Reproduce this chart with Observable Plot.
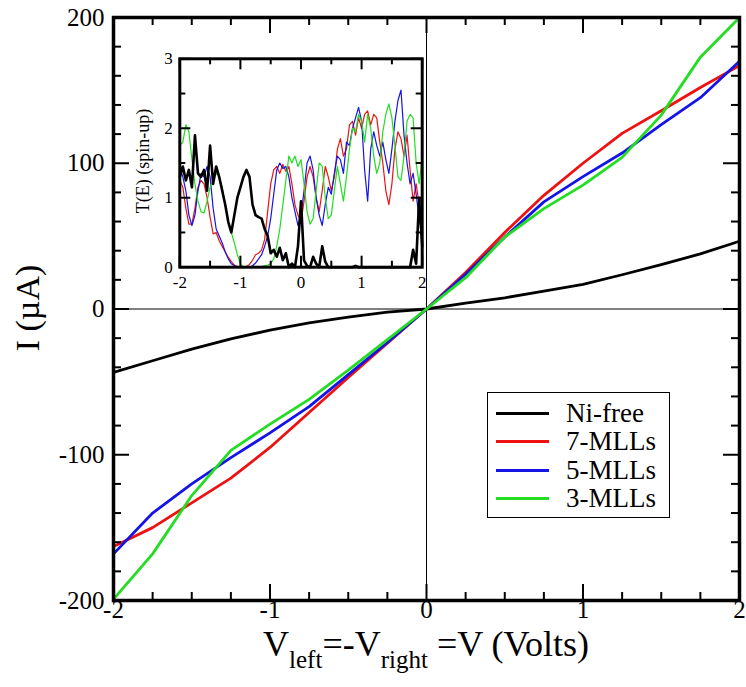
<!DOCTYPE html>
<html><head><meta charset="utf-8">
<script src="https://cdn.jsdelivr.net/npm/d3@7"></script>
<script src="https://cdn.jsdelivr.net/npm/@observablehq/plot@0.6"></script>
<style>
body{margin:0;background:#fff;}
#chart{position:relative;width:746px;height:687px;font-family:"Liberation Serif","Times New Roman",serif;color:#000;overflow:hidden;}
#chart svg{position:absolute;}
.abs{position:absolute;white-space:nowrap;}
</style></head><body><div id="chart"></div>
<script>
// ---- main I–V data ----
const bias = [-2,-1.75,-1.5,-1.25,-1,-0.75,-0.5,-0.25,0,0.25,0.5,0.75,1,1.25,1.5,1.75,2];
const niFree = [-43.5,-35.5,-27.5,-20.5,-14.5,-9.5,-5.5,-2.2,0,4,7.7,12.2,16.9,23.5,30.5,37.8,46.5];
const mll7 = [-163,-150,-133,-116,-95,-71,-47,-23.5,0,25,52.5,78,100,120.5,136,152,167];
const mll5 = [-168,-140,-120,-102,-85,-67,-45,-23,0,23.8,49.3,73.5,90.8,107,126.5,145,170];
const mll3 = [-199,-168,-128,-97,-79,-62,-42,-21,0,21.5,49.3,68.9,85,104,133,172.8,200];

// ---- inset T(E) data ----
const energy = [-2,-1.95,-1.9,-1.85,-1.8,-1.75,-1.7,-1.65,-1.6,-1.55,-1.5,-1.45,-1.4,-1.35,-1.3,-1.25,-1.2,-1.15,-1.1,-1.05,-1,-0.95,-0.9,-0.85,-0.8,-0.75,-0.7,-0.65,-0.6,-0.55,-0.5,-0.45,-0.4,-0.35,-0.3,-0.25,-0.2,-0.15,-0.1,-0.05,0,0.05,0.1,0.15,0.2,0.25,0.3,0.35,0.4,0.45,0.5,0.55,0.6,0.65,0.7,0.75,0.8,0.85,0.9,0.95,1,1.05,1.1,1.15,1.2,1.25,1.3,1.35,1.4,1.45,1.5,1.55,1.6,1.65,1.7,1.75,1.8,1.85,1.9,1.95,2];
const tNiFree = [1.3,1.45,1.25,1.4,1.15,1.9,1.35,1.3,1.4,1.1,
 1.75,1.2,1.45,1.3,1.1,0.9,0.65,0.5,0.75,1.0,
 1.15,1.3,1.4,1.3,0.9,0.75,0.72,0.7,0.55,0.45,
 0.2,0.25,0.15,0.28,0.1,0.2,0,0.05,0,0.3,
 0.95,0.1,0.02,0,0.15,0.05,0,0.3,0.08,0,
 0,0,0,0,0,0,0,0,0.02,0,
 0,0,0,0,0,0,0,0,0,0,
 0,0,0,0,0,0,0,0.25,0.05,1.0,
 0.3];
const t7 = [1.25,1.15,0.85,0.62,0.62,0.85,1.15,1.25,1.2,1.0,
 0.72,0.48,0.5,0.38,0.3,0.22,0.14,0.08,0.03,0.01,
 0,0,0.01,0.04,0.1,0.18,0.2,0.25,0.4,0.8,
 1.2,1.4,1.45,1.35,1.48,1.38,1.45,1.2,0.9,0.75,
 0.65,0.95,1.3,1.45,1.3,1.0,0.8,1.1,1.45,1.3,
 1.1,1.3,1.7,1.85,1.6,1.7,2.05,2.1,1.9,2.15,
 2.0,2.2,2.25,2.05,2.2,2.15,1.8,1.5,1.1,0.9,
 1.2,1.7,1.95,1.85,1.6,1.9,1.4,0.95,1.2,0.9,
 1.05];
const t5 = [1.45,1.3,1.1,0.75,0.6,0.75,1.1,1.35,1.3,1.45,
 1.3,0.85,0.55,0.45,0.35,0.22,0.12,0.05,0.02,0,
 0,0,0,0,0.02,0.06,0.12,0.18,0.3,0.45,
 0.7,1.05,1.4,1.5,1.42,1.45,1.3,1.0,0.8,0.6,
 0.75,1.1,1.5,1.6,1.4,1.0,0.75,0.6,0.9,1.15,
 1.05,1.35,1.6,1.55,1.35,1.8,1.75,2.0,2.15,2.3,
 2.1,1.4,0.95,1.7,1.95,1.75,1.6,1.8,1.55,1.35,
 1.7,2.1,2.4,2.55,1.9,1.5,1.2,1.35,1.05,0.7,
 0.5];
const t3 = [1.75,1.8,2.05,1.95,1.55,1.2,0.95,0.8,0.78,0.95,
 1.15,1.25,1.35,1.3,1.15,0.9,0.65,0.5,0.35,0.18,
 0.05,0,0,0,0,0,0,0.01,0.02,0.03,
 0.05,0.12,0.3,0.55,0.9,1.25,1.6,1.5,1.6,1.45,
 1.55,1.2,0.8,0.62,0.7,1.1,1.5,1.45,1.0,0.7,
 0.75,1.1,1.45,1.2,0.95,1.3,1.7,2.0,1.95,2.2,
 2.1,1.8,2.2,2.0,1.6,1.35,1.5,1.95,2.2,2.35,
 2.15,1.75,1.3,1.25,1.6,2.1,2.2,2.15,1.5,1.2,
 1.6];

// ---- labels & ticks ----
const seriesNames = ["Ni-free","7-MLLs","5-MLLs","3-MLLs"];
const seriesColors = ["#000000","#ee1111","#1414e6","#22dd22"];
const xMajor = [-2,-1,0,1,2];
const xMinor = [-1.75,-1.5,-1.25,-0.75,-0.5,-0.25,0.25,0.5,0.75,1.25,1.5,1.75];
const yMajor = [-200,-100,0,100,200];
const yMinor = [-180,-160,-140,-120,-80,-60,-40,-20,20,40,60,80,120,140,160,180];
const insetXMajor = [-2,-1,0,1,2];
const insetXMinor = [-1.5,-0.5,0.5,1.5];
const insetYMajor = [0,1,2,3];
const insetYMinor = [0.5,1.5,2.5];

const mainSeries = [niFree, mll7, mll5, mll3];
const insetSeries = [tNiFree, t7, t5, t3];

const mainData = mainSeries.flatMap((arr, k) => arr.map((v, i) => ({V: bias[i], I: v, s: seriesNames[k]})));
const insetData = insetSeries.flatMap((arr, k) => arr.map((v, i) => ({E: energy[i], T: v, s: seriesNames[k]})));

const chart = document.getElementById("chart");
const font = '"Liberation Serif","Times New Roman",serif';
const fmt = d => String(d);

// ---- main plot ----
const W = 746, H = 687, mL = 113, mR = 7, mT = 17, mB = 87;
const iw = W - mL - mR, ih = H - mT - mB;
const majL = 16, minL = 8;
const main = Plot.plot({
  width: W, height: H, marginLeft: mL, marginRight: mR, marginTop: mT, marginBottom: mB,
  x: {domain: [-2, 2]},
  y: {domain: [-200, 200]},
  color: {domain: seriesNames, range: seriesColors},
  style: {background: "white", fontFamily: font, fontSize: "25px", color: "black"},
  marks: [
    Plot.ruleX([0], {stroke: "black", strokeWidth: 1}),
    Plot.ruleY([0], {stroke: "black", strokeWidth: 1}),
    Plot.line(mainData, {x: "V", y: "I", z: "s", stroke: "s", strokeWidth: 2.8}),
    Plot.tickX(xMinor, {x: d => d, insetTop: ih - minL, strokeWidth: 2}),
    Plot.tickX(xMinor, {x: d => d, insetBottom: ih - minL, strokeWidth: 2}),
    Plot.tickX(xMajor, {x: d => d, insetTop: ih - majL, strokeWidth: 2}),
    Plot.tickX(xMajor, {x: d => d, insetBottom: ih - majL, strokeWidth: 2}),
    Plot.tickY(yMinor, {y: d => d, insetRight: iw - minL, strokeWidth: 2}),
    Plot.tickY(yMinor, {y: d => d, insetLeft: iw - minL, strokeWidth: 2}),
    Plot.tickY(yMajor, {y: d => d, insetRight: iw - majL, strokeWidth: 2}),
    Plot.tickY(yMajor, {y: d => d, insetLeft: iw - majL, strokeWidth: 2}),
    Plot.frame({stroke: "black", strokeWidth: 3.5}),
    Plot.axisX(xMajor, {tickSize: 0, tickPadding: 0, label: null, fontSize: 25, tickFormat: fmt}),
    Plot.axisY(yMajor, {tickSize: 0, tickPadding: 9, label: null, fontSize: 25, tickFormat: fmt})
  ]
});
main.style.left = "0px"; main.style.top = "0px";
chart.appendChild(main);

// ---- inset plot ----
const IL = 120, IT = 40, IW = 310, IH = 260;
const imL = 59.3, imR = 8.3, imT = 18.3, imB = 33.3;
const iiw = IW - imL - imR, iih = IH - imT - imB;
const inset = Plot.plot({
  width: IW, height: IH, marginLeft: imL, marginRight: imR, marginTop: imT, marginBottom: imB,
  x: {domain: [-2, 2]},
  y: {domain: [0, 3]},
  color: {domain: seriesNames, range: seriesColors},
  style: {background: "transparent", fontFamily: font, fontSize: "17px", color: "black"},
  marks: [
    Plot.frame({fill: "white"}),
    Plot.line(insetData.filter(d => d.s !== "Ni-free"), {x: "E", y: "T", z: "s", stroke: "s", strokeWidth: 1.2}),
    Plot.line(insetData.filter(d => d.s === "Ni-free"), {x: "E", y: "T", stroke: "black", strokeWidth: 2.6}),
    Plot.tickX(insetXMinor, {x: d => d, insetTop: iih - 6, strokeWidth: 2}),
    Plot.tickX(insetXMinor, {x: d => d, insetBottom: iih - 6, strokeWidth: 2}),
    Plot.tickX(insetXMajor, {x: d => d, insetTop: iih - 11, strokeWidth: 2}),
    Plot.tickX(insetXMajor, {x: d => d, insetBottom: iih - 11, strokeWidth: 2}),
    Plot.tickY(insetYMinor, {y: d => d, insetRight: iiw - 6, strokeWidth: 2}),
    Plot.tickY(insetYMinor, {y: d => d, insetLeft: iiw - 6, strokeWidth: 2}),
    Plot.tickY(insetYMajor, {y: d => d, insetRight: iiw - 11, strokeWidth: 2}),
    Plot.tickY(insetYMajor, {y: d => d, insetLeft: iiw - 11, strokeWidth: 2}),
    Plot.frame({stroke: "black", strokeWidth: 3}),
    Plot.axisX(insetXMajor, {tickSize: 0, tickPadding: 9, label: null, fontSize: 17, tickFormat: fmt}),
    Plot.axisY(insetYMajor, {tickSize: 0, tickPadding: 7, label: null, fontSize: 17, tickFormat: fmt})
  ]
});
inset.style.left = IL + "px"; inset.style.top = IT + "px";
chart.appendChild(inset);

// ---- titles ----
const xTitle = document.createElement("div");
xTitle.className = "abs";
xTitle.style.cssText = "left:26px;width:800px;top:631px;text-align:center;font-size:36px;line-height:26px;";
xTitle.innerHTML = 'V<span style="font-size:25px;position:relative;top:12px">left</span>=-V<span style="font-size:25px;position:relative;top:12px">right</span> =V (Volts)';
chart.appendChild(xTitle);

const yTitle = document.createElement("div");
yTitle.className = "abs";
yTitle.style.cssText = "left:28px;top:308px;font-size:34px;line-height:34px;transform:translate(-50%,-50%) rotate(-90deg);";
yTitle.textContent = "I (µA)";
chart.appendChild(yTitle);

const iyTitle = document.createElement("div");
iyTitle.className = "abs";
iyTitle.style.cssText = "left:143px;top:161px;font-size:18px;line-height:18px;transform:translate(-50%,-50%) rotate(-90deg);";
iyTitle.textContent = "T(E) (spin-up)";
chart.appendChild(iyTitle);

// ---- legend ----
const legend = document.createElement("div");
legend.className = "abs";
legend.style.cssText = "left:487px;top:392px;width:181px;height:124px;border:1px solid #000;background:#fff;";
const rowY = [20, 48, 77, 105];
seriesNames.forEach((name, k) => {
  const ln = document.createElement("div");
  ln.className = "abs";
  ln.style.cssText = `left:8px;top:${rowY[k] - 1.5}px;width:53px;height:3px;background:${seriesColors[k]};`;
  legend.appendChild(ln);
  const tx = document.createElement("div");
  tx.className = "abs";
  tx.style.cssText = `left:78px;top:${rowY[k] - 14}px;font-size:27px;line-height:28px;`;
  tx.textContent = name;
  legend.appendChild(tx);
});
chart.appendChild(legend);
</script>
</body></html>
